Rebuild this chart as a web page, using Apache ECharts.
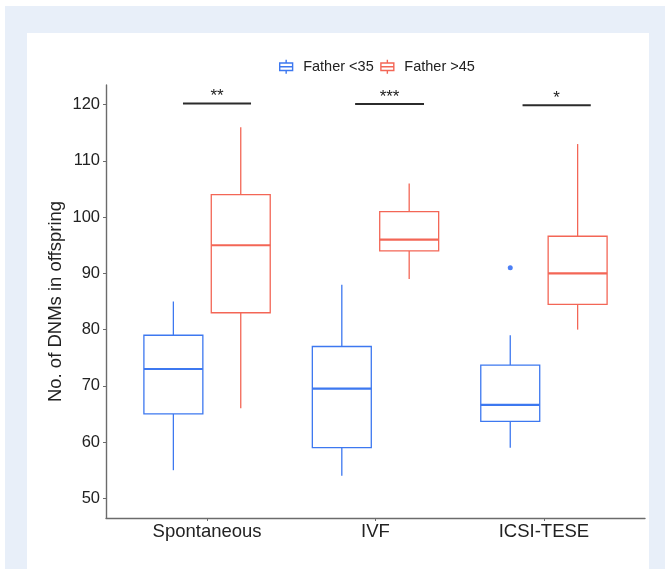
<!DOCTYPE html>
<html>
<head>
<meta charset="utf-8">
<script src="https://cdn.jsdelivr.net/npm/echarts@6/dist/echarts.min.js"></script>
<style>
  html, body { margin: 0; padding: 0; background: #ffffff; }
  .outer { position: absolute; left: 5px; top: 6px; right: 0; bottom: 0; background: #e8eff9; }
  .inner { position: absolute; left: 27px; top: 33px; width: 622px; bottom: 0; background: #ffffff; }
  #chart { position: absolute; left: 0; top: 0; width: 665px; height: 569px; }
</style>
</head>
<body>
<div class="outer"></div>
<div class="inner"></div>
<div id="chart"></div>
<script>
// groups on the x axis
const groups = ['Spontaneous', 'IVF', 'ICSI-TESE'];
const seriesNames = ['Father <35', 'Father >45'];
// min, Q1, median, Q3, max per group
const youngStats = [
  [55, 65, 73, 79, 85],
  [54, 59, 69.5, 77, 88],
  [59, 63.7, 66.6, 73.7, 79]
];
const oldStats = [
  [66, 83, 95, 104, 116],
  [89, 94, 96, 101, 106],
  [80, 84.5, 90, 96.6, 113]
];
// [group index, value]
const youngOutliers = [[2, 91]];
// significance brackets: x from, x to, y
const sigSpans = [
  [0.857, 1.261, 120.2],
  [1.879, 2.288, 120.1],
  [2.873, 3.278, 119.9]
];
const sigLabels = ['**', '***', '*'];
const yTicks = [50, 60, 70, 80, 90, 100, 110, 120];

const BLUE = '#3d78f0';
const RED = '#f36656';
const BOX_W = 0.35;
const DODGE = 0.2;
const ICON = 'path://M6,0L6,3M0,3L12,3L12,10L0,10ZM0,6.5L12,6.5M6,10L6,13';

function drawBox(dodge, color) {
  return function (params, api) {
    const x = api.value(0) + dodge;
    const top = api.coord([x - BOX_W / 2, api.value(4)]);
    const bot = api.coord([x + BOX_W / 2, api.value(2)]);
    const mid = api.coord([x, api.value(3)]);
    const hi = api.coord([x, api.value(5)]);
    const lo = api.coord([x, api.value(1)]);
    const thin = { stroke: color, lineWidth: 1.3, fill: null };
    return {
      type: 'group',
      children: [
        { type: 'line', shape: { x1: mid[0], y1: hi[1], x2: mid[0], y2: top[1] }, style: thin },
        { type: 'line', shape: { x1: mid[0], y1: bot[1], x2: mid[0], y2: lo[1] }, style: thin },
        { type: 'rect', shape: { x: top[0], y: top[1], width: bot[0] - top[0], height: bot[1] - top[1] },
          style: { stroke: color, lineWidth: 1.3, fill: 'none' } },
        { type: 'line', shape: { x1: top[0], y1: mid[1], x2: bot[0], y2: mid[1] },
          style: { stroke: color, lineWidth: 2.2 } }
      ]
    };
  };
}

function drawSig(params, api) {
  const a = api.coord([api.value(0), api.value(2)]);
  const b = api.coord([api.value(1), api.value(2)]);
  return {
    type: 'group',
    children: [
      { type: 'line', shape: { x1: a[0], y1: a[1], x2: b[0], y2: b[1] },
        style: { stroke: '#2b2b2b', lineWidth: 2 } },
      { type: 'text', x: (a[0] + b[0]) / 2, y: a[1] - 7,
        style: { text: sigLabels[params.dataIndex], textAlign: 'center', textVerticalAlign: 'middle',
                 font: '17px "Liberation Sans"', fill: '#222' } }
    ]
  };
}

const chart = echarts.init(document.getElementById('chart'));
chart.setOption({
  animation: false,
  backgroundColor: 'transparent',
  textStyle: { fontFamily: 'Liberation Sans' },
  legend: {
    left: 274,
    top: 54,
    itemWidth: 24,
    itemHeight: 14,
    itemGap: 6.5,
    textStyle: { fontSize: 14.5, color: '#222' },
    data: [
      { name: seriesNames[0], icon: ICON, itemStyle: { color: 'transparent', borderColor: BLUE, borderWidth: 1.4 } },
      { name: seriesNames[1], icon: ICON, itemStyle: { color: 'transparent', borderColor: RED, borderWidth: 1.4 } }
    ]
  },
  grid: { left: 106, right: 20, top: 85, bottom: 51, outerBoundsMode: 'none' },
  xAxis: {
    type: 'value',
    min: 0.4,
    max: 3.6,
    splitLine: { show: false },
    axisLine: { show: true, lineStyle: { color: '#6b6b6b', width: 1.4 } },
    axisTick: { show: true, customValues: [1, 2, 3], length: 3, lineStyle: { color: '#6b6b6b' } },
    axisLabel: {
      show: true,
      customValues: [1, 2, 3],
      formatter: function (v) { return groups[Math.round(v) - 1]; },
      fontSize: 18.5,
      color: '#222',
      margin: 4
    }
  },
  yAxis: {
    type: 'value',
    min: 46.5,
    max: 123.5,
    name: 'No. of DNMs in offspring',
    nameLocation: 'middle',
    nameGap: 41,
    nameMoveOverlap: false,
    nameRotate: 90,
    nameTextStyle: { fontSize: 18.5, color: '#222' },
    splitLine: { show: false },
    axisLine: { show: true, lineStyle: { color: '#6b6b6b', width: 1.4 } },
    axisTick: { show: true, customValues: yTicks, length: 3, lineStyle: { color: '#6b6b6b' } },
    axisLabel: { customValues: yTicks, fontSize: 16.5, color: '#222', margin: 6 }
  },
  series: [
    {
      name: seriesNames[0],
      type: 'custom',
      itemStyle: { color: BLUE },
      renderItem: drawBox(-DODGE, BLUE),
      encode: { x: 0, y: [1, 2, 3, 4, 5] },
      data: youngStats.map(function (d, i) { return [i + 1].concat(d); })
    },
    {
      name: seriesNames[1],
      type: 'custom',
      itemStyle: { color: RED },
      renderItem: drawBox(DODGE, RED),
      encode: { x: 0, y: [1, 2, 3, 4, 5] },
      data: oldStats.map(function (d, i) { return [i + 1].concat(d); })
    },
    {
      type: 'scatter',
      symbolSize: 5,
      itemStyle: { color: '#1f5ff2' },
      data: youngOutliers.map(function (o) { return [o[0] + 1 - DODGE, o[1]]; })
    },
    {
      type: 'custom',
      renderItem: drawSig,
      encode: { x: [0, 1], y: 2 },
      data: sigSpans
    }
  ]
});
</script>
</body>
</html>
